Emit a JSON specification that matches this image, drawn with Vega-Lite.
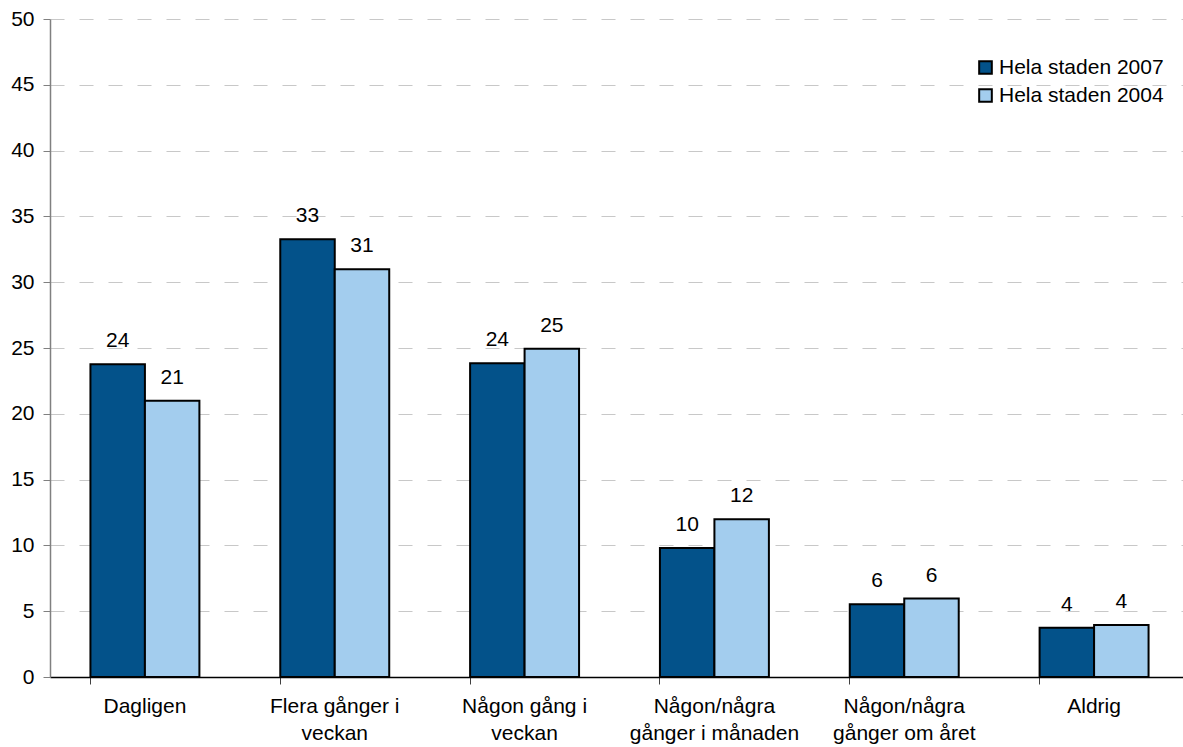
{
  "$schema": "https://vega.github.io/schema/vega-lite/v6.json",
  "width": 1139,
  "height": 658,
  "autosize": {"type": "none"},
  "padding": {"left": 50, "top": 19, "right": 0, "bottom": 70},
  "background": "white",
  "config": {
    "font": "Liberation Sans",
    "view": {"stroke": null}
  },
  "data": {
    "values": [
      {"cat": "Dagligen", "series": "Hela staden 2007", "value": 23.76},
      {"cat": "Dagligen", "series": "Hela staden 2004", "value": 21.0},
      {"cat": "Flera gånger i|veckan", "series": "Hela staden 2007", "value": 33.26},
      {"cat": "Flera gånger i|veckan", "series": "Hela staden 2004", "value": 30.98},
      {"cat": "Någon gång i|veckan", "series": "Hela staden 2007", "value": 23.84},
      {"cat": "Någon gång i|veckan", "series": "Hela staden 2004", "value": 24.95},
      {"cat": "Någon/några|gånger i månaden", "series": "Hela staden 2007", "value": 9.8},
      {"cat": "Någon/några|gånger i månaden", "series": "Hela staden 2004", "value": 11.98},
      {"cat": "Någon/några|gånger om året", "series": "Hela staden 2007", "value": 5.52},
      {"cat": "Någon/några|gånger om året", "series": "Hela staden 2004", "value": 5.96},
      {"cat": "Aldrig", "series": "Hela staden 2007", "value": 3.74},
      {"cat": "Aldrig", "series": "Hela staden 2004", "value": 3.96}
    ]
  },
  "encoding": {
    "x": {
      "field": "cat",
      "type": "nominal",
      "sort": null,
      "scale": {"paddingInner": 0.426, "paddingOuter": 0.213},
      "axis": {
        "title": null,
        "labelAngle": 0,
        "labelExpr": "split(datum.label, '|')",
        "labelFontSize": 21,
        "labelColor": "black",
        "labelLineHeight": 27,
        "labelPadding": 11,
        "bandPosition": 0,
        "tickSize": 7,
        "tickColor": "#404040",
        "domainColor": "black",
        "domainWidth": 1.5,
        "grid": false,
        "labelBaseline": "top"
      }
    },
    "xOffset": {
      "field": "series",
      "type": "nominal",
      "scale": {"domain": ["Hela staden 2007", "Hela staden 2004"], "paddingInner": 0, "paddingOuter": 0}
    },
    "y": {
      "field": "value",
      "type": "quantitative",
      "scale": {"domain": [0, 50], "nice": false},
      "axis": {
        "title": null,
        "values": [0, 5, 10, 15, 20, 25, 30, 35, 40, 45, 50],
        "labelFontSize": 21,
        "labelColor": "black",
        "labelPadding": 9,
        "tickSize": 7,
        "tickColor": "#808080",
        "domainColor": "#808080",
        "domainWidth": 1.5,
        "grid": true,
        "gridColor": "#c8c8c8",
        "gridDash": [14, 15],
        "gridWidth": 1.2
      }
    }
  },
  "layer": [
    {
      "mark": {"type": "bar", "stroke": "black", "strokeWidth": 2},
      "encoding": {
        "color": {
          "field": "series",
          "type": "nominal",
          "scale": {"domain": ["Hela staden 2007", "Hela staden 2004"], "range": ["#03528A", "#A3CDEE"]},
          "legend": {
            "title": null,
            "orient": "none",
            "legendX": 925,
            "legendY": 38,
            "symbolType": "square",
            "symbolSize": 160,
            "symbolStrokeColor": "black",
            "symbolStrokeWidth": 2,
            "symbolOpacity": 1,
            "labelFontSize": 21,
            "labelColor": "black",
            "labelLimit": 400,
            "labelOffset": 3,
            "rowPadding": 6
          }
        }
      }
    },
    {
      "mark": {"type": "text", "fontSize": 21, "color": "black", "baseline": "alphabetic", "dy": -17},
      "encoding": {
        "text": {"field": "value", "type": "quantitative", "format": ".0f"}
      }
    }
  ]
}
